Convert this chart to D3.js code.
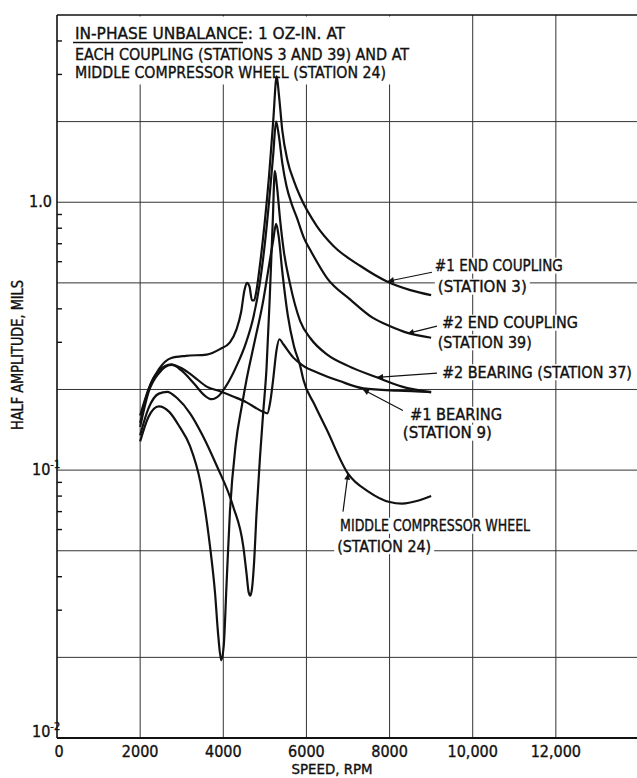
<!DOCTYPE html>
<meta charset="utf-8">
<style>
  body { margin: 0; background: #fff; }
  text { font-family: "DejaVu Sans Condensed", "Liberation Sans Narrow", "DejaVu Sans", sans-serif; fill: #111; stroke: #111; stroke-width: 0.35px; }
</style>
<script src="https://d3js.org/d3.v7.min.js"></script>
<div id="chart"></div>
<script>

// ---- data (speed in rpm, half amplitude in mils) ----
var speedTicks = [0, 2000, 4000, 6000, 8000, 10000, 12000];
var speedTickLabels = ["0", "2000", "4000", "6000", "8000", "10,000", "12,000"];
var ampGrid = [0.02, 0.05, 0.1, 0.2, 0.5, 1, 2];
var ampMinor = [0.03, 0.04, 0.06, 0.07, 0.08, 0.09, 0.3, 0.4, 0.6, 0.7, 0.8, 0.9, 3, 4];

var endCoupling1 = [[2000,0.16],[2200,0.2],[2450,0.238],[2750,0.262],[3100,0.267],[3600,0.27],[3920,0.283],[4160,0.3],[4320,0.336],[4430,0.39],[4510,0.47],[4570,0.5],[4630,0.485],[4690,0.43],[4740,0.43],[4800,0.47],[4880,0.58],[5000,0.85],[5100,1.25],[5200,2.0],[5285,2.95],[5340,2.5],[5420,1.85],[5550,1.42],[5700,1.2],[5850,1.05],[6250,0.815],[6650,0.687],[7300,0.578],[7950,0.505],[8500,0.47],[9000,0.45]];
var endCoupling2 = [[2000,0.15],[2200,0.2],[2450,0.235],[2750,0.248],[3000,0.235],[3300,0.21],[3550,0.19],[3720,0.184],[3900,0.19],[4100,0.21],[4320,0.245],[4550,0.3],[4720,0.37],[4880,0.5],[5000,0.7],[5100,1.0],[5200,1.5],[5270,2.0],[5330,1.8],[5420,1.4],[5520,1.15],[5650,0.98],[5765,0.88],[5950,0.73],[6100,0.66],[6500,0.52],[7050,0.434],[7600,0.37],[8000,0.345],[8410,0.326],[9000,0.312]];
var bearing2 = [[2000,0.135],[2200,0.17],[2450,0.193],[2650,0.196],[2900,0.185],[3200,0.163],[3500,0.135],[3840,0.104],[4240,0.073],[4480,0.052],[4560,0.041],[4610,0.035],[4650,0.034],[4690,0.036],[4740,0.045],[4800,0.069],[4880,0.11],[4960,0.164],[5040,0.24],[5120,0.45],[5190,0.85],[5240,1.31],[5290,1.15],[5370,0.85],[5460,0.65],[5600,0.5],[5850,0.36],[6100,0.31],[6500,0.27],[7000,0.245],[7690,0.222],[8300,0.205],[9000,0.195]];
var bearing1 = [[2000,0.145],[2200,0.195],[2450,0.23],[2750,0.247],[3000,0.24],[3280,0.224],[3600,0.205],[3920,0.197],[4250,0.188],[4560,0.179],[4800,0.17],[4960,0.165],[5060,0.163],[5130,0.18],[5200,0.218],[5280,0.28],[5350,0.308],[5445,0.295],[5685,0.263],[5925,0.245],[6300,0.23],[6800,0.215],[7370,0.202],[8200,0.198],[9000,0.196]];
var compressorWheel = [[2000,0.128],[2200,0.158],[2450,0.173],[2700,0.165],[2950,0.145],[3200,0.123],[3450,0.09],[3680,0.052],[3800,0.035],[3880,0.024],[3950,0.0195],[4010,0.022],[4080,0.038],[4160,0.07],[4300,0.125],[4450,0.175],[4560,0.218],[4750,0.3],[4950,0.42],[5100,0.58],[5200,0.72],[5270,0.83],[5330,0.75],[5420,0.55],[5550,0.38],[5700,0.29],[5850,0.245],[5925,0.218],[6200,0.175],[6485,0.142],[7000,0.097],[7500,0.083],[8000,0.076],[8300,0.075],[8700,0.077],[9000,0.08]];

var allSeries = [endCoupling1, endCoupling2, bearing2, bearing1, compressorWheel];

// ---- layout ----
var width = 637, height = 778;

var svg = d3.select("#chart")
  .append("svg")
    .attr("width", width)
    .attr("height", height);

var x = d3.scaleLinear().domain([0, 14000]).range([57, 639]);
var y = d3.scaleLog().domain([0.01, 5]).range([738, 15]);

// grid
var grid = svg.append("g").attr("stroke", "#333").attr("stroke-width", 1);
grid.selectAll(".vg")
  .data(speedTicks.filter(function(d) { return d > 0; }))
  .enter().append("line")
    .attr("x1", function(d) { return x(d); })
    .attr("x2", function(d) { return x(d); })
    .attr("y1", y(5)).attr("y2", y(0.01));
grid.selectAll(".hg")
  .data(ampGrid)
  .enter().append("line")
    .attr("x1", x(0)).attr("x2", x(14000))
    .attr("y1", function(d) { return y(d); })
    .attr("y2", function(d) { return y(d); });

// frame
svg.append("line").attr("x1", x(0)).attr("x2", x(0)).attr("y1", y(5)).attr("y2", y(0.01))
  .attr("stroke", "#111").attr("stroke-width", 1.6);
svg.append("line").attr("x1", x(0)).attr("x2", x(14000)).attr("y1", y(5)).attr("y2", y(5))
  .attr("stroke", "#111").attr("stroke-width", 1.6);
svg.append("line").attr("x1", x(0)).attr("x2", x(14000)).attr("y1", y(0.01)).attr("y2", y(0.01))
  .attr("stroke", "#111").attr("stroke-width", 1.8);

// minor ticks on the left axis, pointing inward
svg.selectAll(".mt")
  .data(ampMinor)
  .enter().append("line")
    .attr("x1", x(0)).attr("x2", x(0) + 5)
    .attr("y1", function(d) { return y(d); })
    .attr("y2", function(d) { return y(d); })
    .attr("stroke", "#111").attr("stroke-width", 1.4);

// blank area behind the heading note
svg.append("rect")
  .attr("x", x(0) + 6).attr("y", y(5) + 1.5)
  .attr("width", 356).attr("height", 68)
  .attr("fill", "#fff");

// curves
var line = d3.line()
  .x(function(d) { return x(d[0]); })
  .y(function(d) { return y(d[1]); })
  .curve(d3.curveMonotoneX);

svg.append("g").selectAll("path")
  .data(allSeries)
  .enter().append("path")
    .attr("d", line)
    .attr("fill", "none")
    .attr("stroke", "#111")
    .attr("stroke-width", 2.2)
    .attr("stroke-linejoin", "round");

// tick labels
var fs = 16;
svg.append("g").selectAll("text")
  .data(speedTicks)
  .enter().append("text")
    .attr("x", function(d) { return x(d) + (d === 0 ? 2 : 0); })
    .attr("y", 757)
    .attr("text-anchor", "middle")
    .style("font-size", fs + "px")
    .text(function(d, i) { return speedTickLabels[i]; });

svg.append("text")
  .attr("x", x(0) - 5).attr("y", y(1) + 5)
  .attr("text-anchor", "end")
  .style("font-size", fs + "px")
  .text("1.0");

[[0.1, "-1", 0], [0.01, "-2", -6]].forEach(function(p) {
  var t = svg.append("text")
    .attr("x", x(0) - 25).attr("y", y(p[0]) + 5 + p[2])
    .style("font-size", fs + "px")
    .text("10");
  t.append("tspan").attr("dy", -7).style("font-size", "11px").text(p[1]);
});

// axis titles
svg.append("text")
  .attr("x", 332).attr("y", 774)
  .attr("text-anchor", "middle")
  .style("font-size", "14px")
  .attr("textLength", 81).attr("lengthAdjust", "spacingAndGlyphs")
  .text("SPEED, RPM");

svg.append("text")
  .attr("transform", "translate(23,355) rotate(-90)")
  .attr("text-anchor", "middle")
  .style("font-size", "15px")
  .attr("textLength", 150).attr("lengthAdjust", "spacingAndGlyphs")
  .text("HALF AMPLITUDE, MILS");

// heading note
var note = [
  ["IN-PHASE UNBALANCE: 1 OZ-IN. AT", 33, 270],
  ["EACH COUPLING (STATIONS 3 AND 39) AND AT", 54.5, 334],
  ["MIDDLE COMPRESSOR WHEEL (STATION 24)", 72, 311]
];
note.forEach(function(n) {
  svg.append("text")
    .attr("x", 75).attr("y", n[1] + 5.8)
    .style("font-size", fs + "px")
    .attr("textLength", n[2]).attr("lengthAdjust", "spacingAndGlyphs")
    .text(n[0]);
});
svg.append("line")
  .attr("x1", 73).attr("x2", 243).attr("y1", 42.5).attr("y2", 42.5)
  .attr("stroke", "#111").attr("stroke-width", 1.4);

// callouts: text lines (rpm, amp at left/center of caps), arrow from tail to tip
var callouts = [
  { lines: [["#1 END COUPLING", 9090, 0.58, 128], ["(STATION 3)", 9160, 0.484, 89]], tail: [9020, 0.548], tip: [7960, 0.507] },
  { lines: [["#2 END COUPLING", 9260, 0.355, 136], ["(STATION 39)", 9160, 0.3, 94]], tail: [9140, 0.345], tip: [8440, 0.324] },
  { lines: [["#2 BEARING (STATION 37)", 9260, 0.232, 190]], tail: [9140, 0.23], tip: [7700, 0.222] },
  { lines: [["#1 BEARING", 8490, 0.161, 92], ["(STATION 9)", 8320, 0.138, 89]], tail: [8320, 0.167], tip: [7360, 0.2] },
  { lines: [["MIDDLE COMPRESSOR WHEEL", 6810, 0.062, 190], ["(STATION 24)", 6740, 0.052, 94]], tail: [6880, 0.07], tip: [7000, 0.097] }
];

var defs = svg.append("defs");
defs.append("marker")
  .attr("id", "arrow")
  .attr("viewBox", "0 0 10 10")
  .attr("refX", 10).attr("refY", 5)
  .attr("markerWidth", 9).attr("markerHeight", 6)
  .attr("markerUnits", "userSpaceOnUse")
  .attr("orient", "auto")
  .append("path").attr("d", "M0,0L10,5L0,10z").attr("fill", "#111");

var labels = svg.append("g");
callouts.forEach(function(c) {
  c.lines.forEach(function(l) {
    var t = labels.append("text")
      .attr("x", x(l[1])).attr("y", y(l[2]) + 5.4)
      .style("font-size", "15px")
      .attr("textLength", l[3]).attr("lengthAdjust", "spacingAndGlyphs")
      .text(l[0]);
    var b = t.node().getBBox();
    labels.insert("rect", function() { return t.node(); })
      .attr("x", b.x - 3).attr("y", y(l[2]) - 8)
      .attr("width", b.width + 6).attr("height", 16)
      .attr("fill", "#fff");
  });
  labels.append("line")
    .attr("x1", x(c.tail[0])).attr("y1", y(c.tail[1]))
    .attr("x2", x(c.tip[0])).attr("y2", y(c.tip[1]))
    .attr("stroke", "#111").attr("stroke-width", 1.2)
    .attr("marker-end", "url(#arrow)");
});

</script>
